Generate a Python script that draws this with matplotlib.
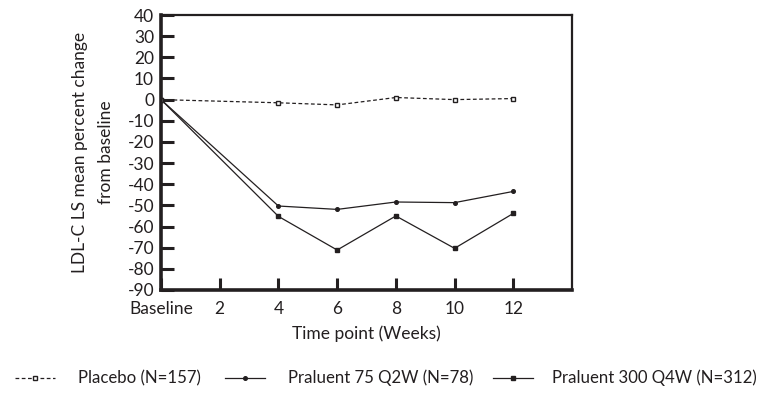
import matplotlib
matplotlib.use("Agg")
from matplotlib import pyplot
from matplotlib.lines import Line2D

pyplot.rcParams['font.family'] = ['Lato', 'DejaVu Sans']
pyplot.rcParams['axes.unicode_minus'] = False

weeks = [0, 4, 6, 8, 10, 12]
placebo = [0, -1.5, -2.5, 1.0, 0.0, 0.5]
praluent_75 = [0, -50.3, -51.9, -48.4, -48.7, -43.4]
praluent_300 = [0, -55.2, -71.1, -55.0, -70.3, -53.8]

x_ticks = [0, 2, 4, 6, 8, 10, 12]
x_labels = ["Baseline", "2", "4", "6", "8", "10", "12"]
y_ticks = list(range(-90, 41, 10))

names = ["Placebo (N=157)", "Praluent 75 Q2W (N=78)", "Praluent 300 Q4W (N=312)"]

ink = "#231f20"
W, H = 763.0, 394.0

styles = [
  dict(ls=(0, (3, 2)), marker='s', ms=3.4, mfc='white', mec=ink, mew=1.0),
  dict(ls='-', marker='o', ms=2.6, mfc=ink, mec=ink),
  dict(ls='-', marker='s', ms=3.3, mfc=ink, mec=ink),
]

fig = pyplot.figure(figsize=(7.63, 3.94), dpi=100)
ax = fig.add_axes([161 / W, 1 - 290 / H, (572 - 161) / W, (290 - 15) / H])

ax.plot(weeks, praluent_75, color=ink, lw=0.9, **styles[1])
ax.plot(weeks, praluent_300, color=ink, lw=0.9, **styles[2])
ax.plot(weeks, placebo, color=ink, lw=0.9, **styles[0])

ax.set_xlim(0, 14)
ax.set_ylim(-90, 40)
ax.set_xticks(x_ticks)
ax.set_xticklabels(x_labels)
ax.set_yticks(y_ticks)
ax.tick_params(direction='in', length=9, width=2.2, labelsize=12.5, colors=ink, pad=5)
ax.tick_params(axis='x', pad=8)
for side in ['left', 'bottom']:
  ax.spines[side].set_linewidth(2.6)
for side in ['top', 'right']:
  ax.spines[side].set_linewidth(1.6)
for sp in ax.spines.values():
  sp.set_color(ink)

ax.set_xlabel('Time point (Weeks)', fontsize=12.5, color=ink, labelpad=6)
ax.set_ylabel('LDL-C LS mean percent change\nfrom baseline', fontsize=12.5, color=ink,
              labelpad=10, linespacing=1.75)

# legend row, laid out by hand
legend_y = 1 - 378 / H
handle_x = [(15, 55), (225, 265), (493, 533)]
text_x = [78, 288, 552]
for (x0, x1), tx, name, st in zip(handle_x, text_x, names, styles):
  fig.add_artist(Line2D([x0 / W, x1 / W], [legend_y, legend_y], color=ink, lw=0.9,
                        ls=st['ls'], transform=fig.transFigure))
  mk = dict(st)
  mk.pop('ls')
  fig.add_artist(Line2D([(x0 + x1) / 2 / W], [legend_y], ls='none',
                        transform=fig.transFigure, **mk))
  fig.text(tx / W, legend_y, name, fontsize=12.1, color=ink, ha='left', va='center')

pyplot.savefig('out.png', dpi=100)
pyplot.close()
